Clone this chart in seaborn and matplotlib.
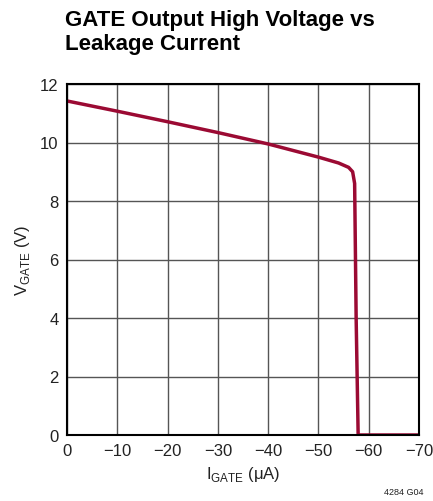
import matplotlib
matplotlib.use("Agg")
import matplotlib.pyplot as plt
import seaborn as sns
import pandas as pd

current_ua = [0, -10, -20, -30, -40, -50, -54, -56, -56.8, -57.2, -57.5, -57.9, -70]
vgate_v = [11.42, 11.07, 10.71, 10.34, 9.95, 9.5, 9.3, 9.15, 9.0, 8.6, 4.0, 0.0, 0.0]
x_ticks = [0, -10, -20, -30, -40, -50, -60, -70]
x_tick_labels = ["0", "\u221210", "\u221220", "\u221230", "\u221240", "\u221250", "\u221260", "\u221270"]
y_ticks = [0, 2, 4, 6, 8, 10, 12]

sns.set_theme(style="white")
fam = ["Liberation Sans Narrow", "Liberation Sans", "DejaVu Sans"]
plt.rcParams["font.family"] = fam
plt.rcParams["mathtext.fontset"] = "custom"
plt.rcParams["mathtext.rm"] = "Liberation Sans"

df = pd.DataFrame({"I": current_ua, "V": vgate_v})

fig = plt.figure(figsize=(4.33, 5.02), dpi=100)
ax = fig.add_axes([67/433, 66/502, 352/433, 351/502])
sns.lineplot(data=df, x="I", y="V", ax=ax, color="#9b0a33", linewidth=2.5, sort=False)
ax.set_xlim(0, -70)
ax.set_ylim(0, 12)
ax.set_xticks(x_ticks)
ax.set_xticklabels(x_tick_labels)
ax.set_yticks(y_ticks)
ax.grid(True, color="#555555", linewidth=1.0)
ax.set_axisbelow(True)
for s in ax.spines.values():
    s.set_color("black")
    s.set_linewidth(1.5)
ax.tick_params(length=0, labelsize=12, colors="#222222", pad=6)
ax.set_xlabel(r"I$_{\mathregular{GATE}}$ ($\mathregular{\mu}$A)", fontsize=12, color="#222222", labelpad=4)
ax.set_ylabel(r"V$_{\mathregular{GATE}}$ (V)", fontsize=12, color="#222222", labelpad=6)

fig.text(65/433, 1 - 10/502, "GATE Output High Voltage vs\nLeakage Current",
         fontsize=16, fontweight="bold", color="black", va="top", ha="left", linespacing=1.2)
fig.text(423/433, 1 - 497/502, "4284 G04", fontsize=6.5, color="#222222", ha="right", va="bottom")

fig.savefig("out.png", dpi=100)
